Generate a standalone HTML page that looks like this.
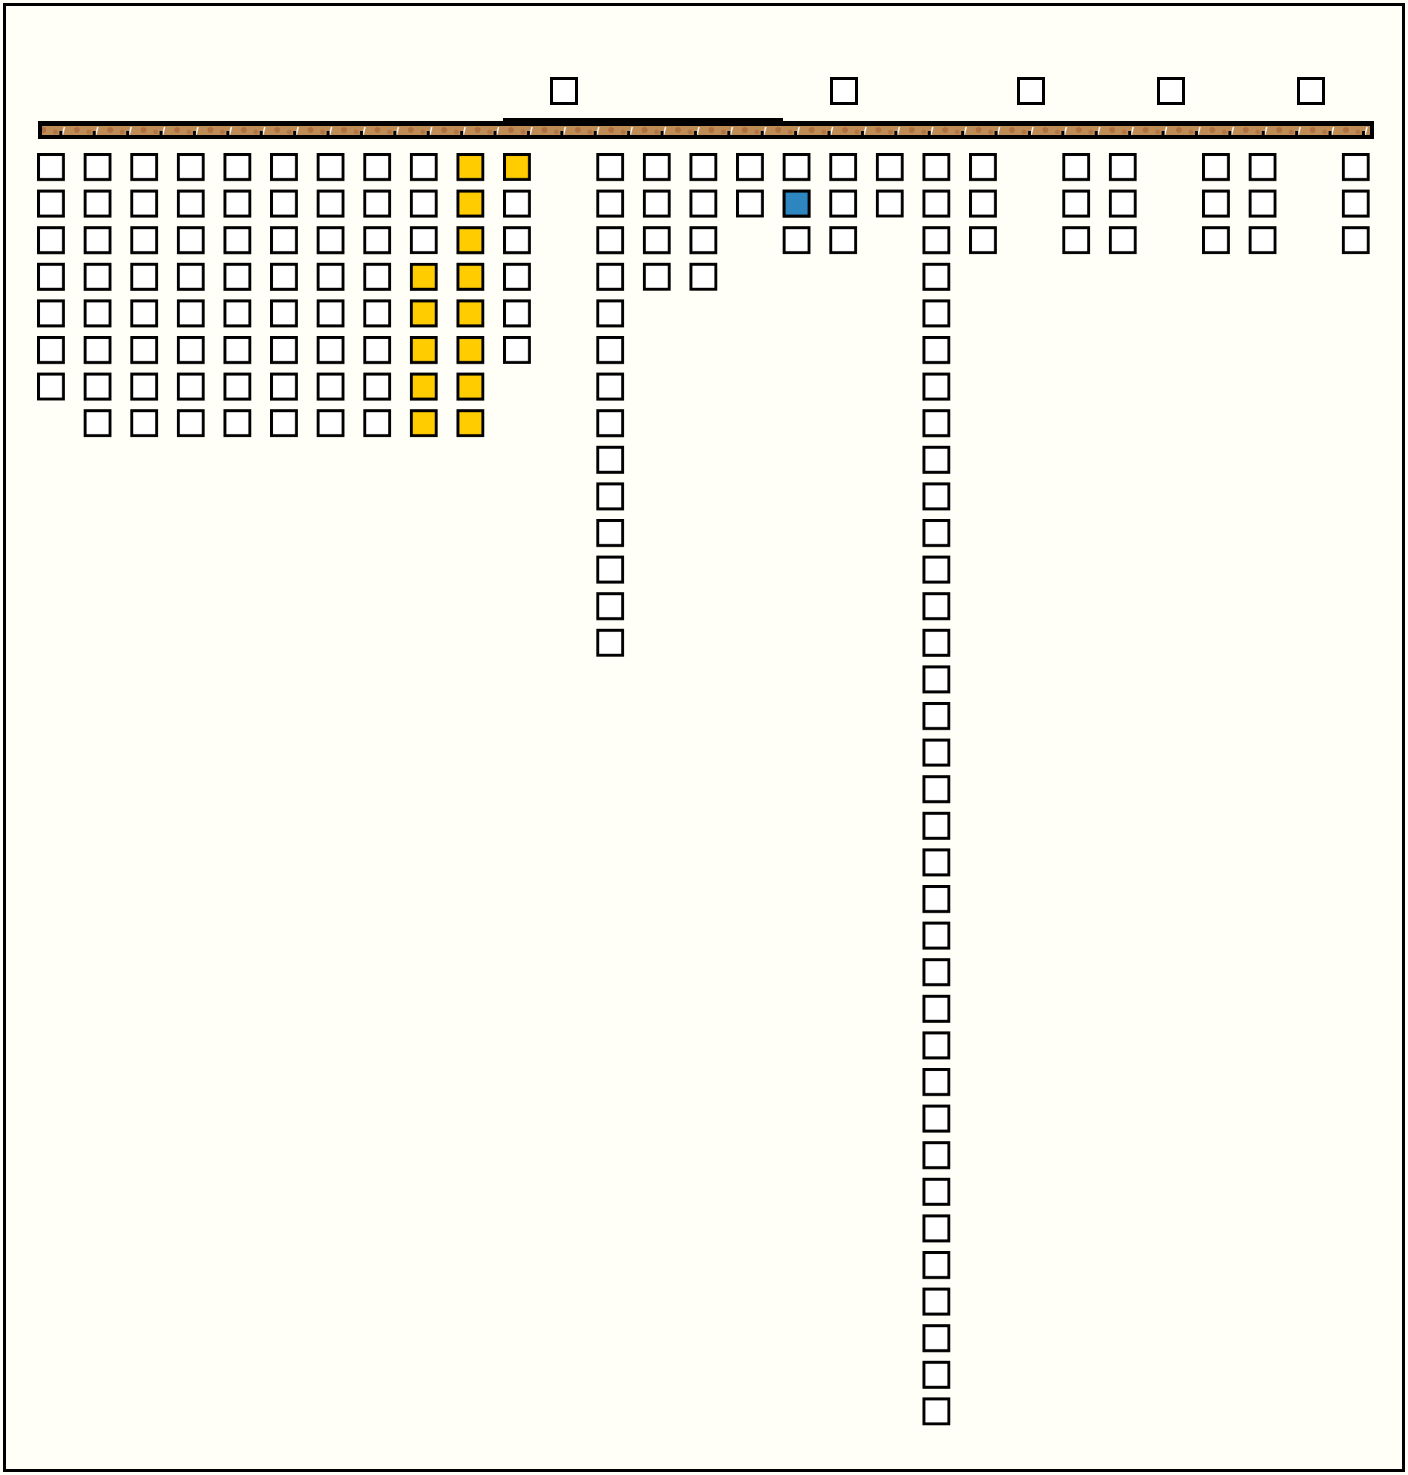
<!DOCTYPE html>
<html><head><meta charset="utf-8"><style>
html,body{margin:0;padding:0;background:#fffff5;}
svg{display:block;}
</style></head><body>
<svg width="1408" height="1475" viewBox="0 0 1408 1475" xmlns="http://www.w3.org/2000/svg">
<defs>
<pattern id="W" patternUnits="userSpaceOnUse" x="37" y="153" width="46.6" height="36.6">
<rect x="1.5" y="1.5" width="25" height="25" fill="#ffffff" stroke="#000" stroke-width="3"/>
</pattern>
<pattern id="Y" patternUnits="userSpaceOnUse" x="37" y="153" width="46.6" height="36.6">
<rect x="1.5" y="1.5" width="25" height="25" fill="#ffcc00" stroke="#000" stroke-width="3"/>
</pattern>
<pattern id="T" patternUnits="userSpaceOnUse" x="0" y="126" width="33.4" height="9">
<rect x="0" y="0" width="33.4" height="9" fill="#c08c55"/>
<circle cx="10" cy="4" r="3" fill="#a8653a" opacity="0.7"/>
<circle cx="22" cy="6" r="2.5" fill="#a8653a" opacity="0.6"/>
<path d="M29 9 L31 1" stroke="#fff" stroke-width="1.5"/>
<rect x="26" y="5" width="3" height="4" fill="#000"/>
</pattern>
</defs>
<rect x="0" y="0" width="1408" height="1475" fill="#fffff7"/>
<rect x="4.5" y="4.5" width="1399" height="1466" fill="none" stroke="#000" stroke-width="3"/>
<rect x="38" y="121" width="1336" height="18" fill="#000"/>
<rect x="503" y="118" width="280" height="6" fill="#000"/>
<rect x="42" y="126" width="1328" height="9" fill="url(#T)"/>
<rect x="551.5" y="78.5" width="25" height="25" fill="#fff" stroke="#000" stroke-width="3"/>
<rect x="831.5" y="78.5" width="25" height="25" fill="#fff" stroke="#000" stroke-width="3"/>
<rect x="1018.5" y="78.5" width="25" height="25" fill="#fff" stroke="#000" stroke-width="3"/>
<rect x="1158.5" y="78.5" width="25" height="25" fill="#fff" stroke="#000" stroke-width="3"/>
<rect x="1298.5" y="78.5" width="25" height="25" fill="#fff" stroke="#000" stroke-width="3"/>
<rect x="37" y="153" width="28" height="247.6" fill="url(#W)"/>
<rect x="83.6" y="153" width="28" height="284.2" fill="url(#W)"/>
<rect x="130.2" y="153" width="28" height="284.2" fill="url(#W)"/>
<rect x="176.8" y="153" width="28" height="284.2" fill="url(#W)"/>
<rect x="223.4" y="153" width="28" height="284.2" fill="url(#W)"/>
<rect x="270" y="153" width="28" height="284.2" fill="url(#W)"/>
<rect x="316.6" y="153" width="28" height="284.2" fill="url(#W)"/>
<rect x="363.2" y="153" width="28" height="284.2" fill="url(#W)"/>
<rect x="409.8" y="153" width="28" height="101.2" fill="url(#W)"/>
<rect x="409.8" y="262.8" width="28" height="174.4" fill="url(#Y)"/>
<rect x="456.4" y="153" width="28" height="284.2" fill="url(#Y)"/>
<rect x="503" y="153" width="28" height="28" fill="url(#Y)"/>
<rect x="503" y="189.6" width="28" height="174.4" fill="url(#W)"/>
<rect x="596.2" y="153" width="28" height="503.8" fill="url(#W)"/>
<rect x="642.8" y="153" width="28" height="137.8" fill="url(#W)"/>
<rect x="689.4" y="153" width="28" height="137.8" fill="url(#W)"/>
<rect x="736" y="153" width="28" height="64.6" fill="url(#W)"/>
<rect x="782.6" y="153" width="28" height="101.2" fill="url(#W)"/>
<rect x="784.1" y="191.1" width="25" height="25" fill="#2e86c1" stroke="#000" stroke-width="3"/>
<rect x="829.2" y="153" width="28" height="101.2" fill="url(#W)"/>
<rect x="875.8" y="153" width="28" height="64.6" fill="url(#W)"/>
<rect x="922.4" y="153" width="28" height="1272.4" fill="url(#W)"/>
<rect x="969" y="153" width="28" height="101.2" fill="url(#W)"/>
<rect x="1062.2" y="153" width="28" height="101.2" fill="url(#W)"/>
<rect x="1108.8" y="153" width="28" height="101.2" fill="url(#W)"/>
<rect x="1202" y="153" width="28" height="101.2" fill="url(#W)"/>
<rect x="1248.6" y="153" width="28" height="101.2" fill="url(#W)"/>
<rect x="1341.8" y="153" width="28" height="101.2" fill="url(#W)"/>
</svg>
</body></html>
